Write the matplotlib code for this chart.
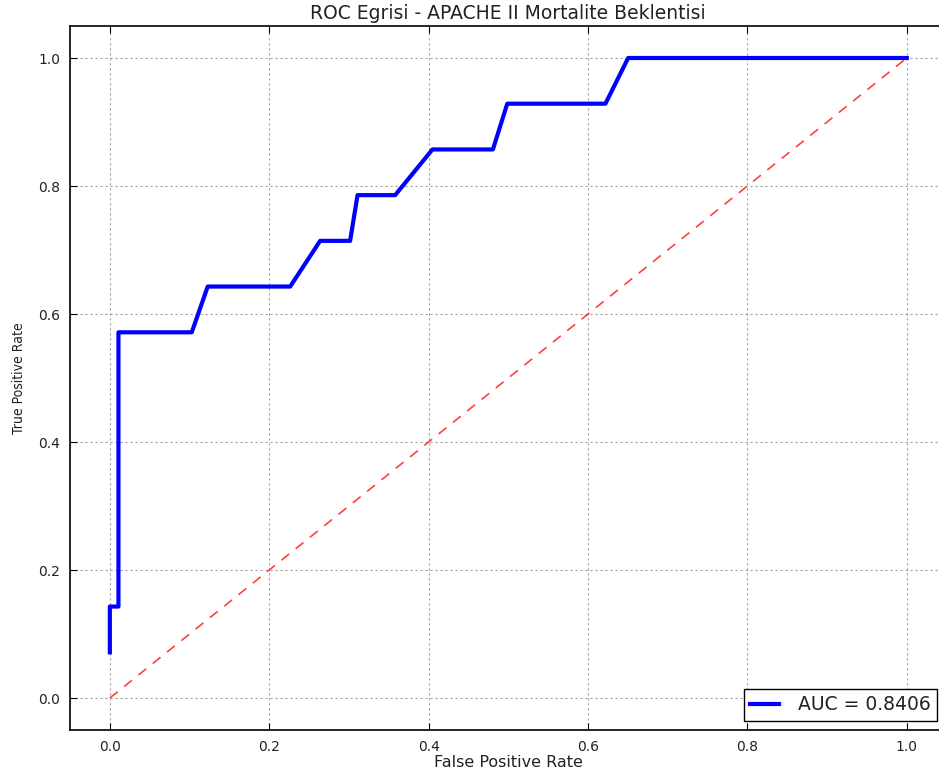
import numpy as np
import matplotlib
matplotlib.use("Agg")
import matplotlib.pyplot as plt

# ROC egrisi noktalari
fpr = [0.0, 0.0, 0.0108, 0.0108, 0.1028, 0.1228, 0.2263, 0.2639, 0.3015,
       0.3108, 0.358, 0.4048, 0.4807, 0.4987, 0.6219, 0.6504, 1.0]
tpr = [0.0714, 0.1429, 0.1429, 0.5714, 0.5714, 0.6429, 0.6429, 0.7143, 0.7143,
       0.7857, 0.7857, 0.8571, 0.8571, 0.9286, 0.9286, 1.0, 1.0]
auc_value = 0.8406
diag = [0, 1]
xticks = [0.0, 0.2, 0.4, 0.6, 0.8, 1.0]
yticks = [0.0, 0.2, 0.4, 0.6, 0.8, 1.0]

W, H = 939, 771
fig = plt.figure(figsize=(W / 100, H / 100), dpi=100)
ax = fig.add_axes([70 / W, (H - 730) / H, (946.6 - 70) / W, (730 - 26) / H])

ax.plot(fpr, tpr, color="blue", lw=3, label="AUC = %0.4f" % auc_value, zorder=3)
ax.plot(diag, diag, "--", color="#ff4040", lw=1.2, dashes=(6, 5), zorder=2)

ax.set_xlim(-0.05, 1.05)
ax.set_ylim(-0.05, 1.05)
ax.set_xticks(xticks)
ax.set_yticks(yticks)
ax.grid(True, color="#a0a0a0", linestyle=(0, (2, 2.5)), lw=0.8)

ax.tick_params(direction="in", length=5, width=0.8, top=True, right=True,
               labelsize=10, labelcolor="#222222", pad=7)
for s in ax.spines.values():
    s.set_linewidth(1.2)

ax.set_title("ROC Egrisi - APACHE II Mortalite Beklentisi", fontsize=13.5,
             color="#222222", pad=5)
ax.set_xlabel("False Positive Rate", fontsize=11.5, color="#222222", labelpad=1)
ax.set_ylabel("True Positive Rate", fontsize=10, color="#222222",
              fontstretch="condensed", labelpad=9)

leg = ax.legend(loc="lower right", fontsize=13.5, fancybox=False,
                edgecolor="black", framealpha=1, handlelength=1.55,
                handletextpad=1.0, borderpad=0.35, borderaxespad=0.5)
leg.get_frame().set_linewidth(1.0)
for t in leg.get_texts():
    t.set_color("#222222")

fig.savefig("out.png", dpi=100)
